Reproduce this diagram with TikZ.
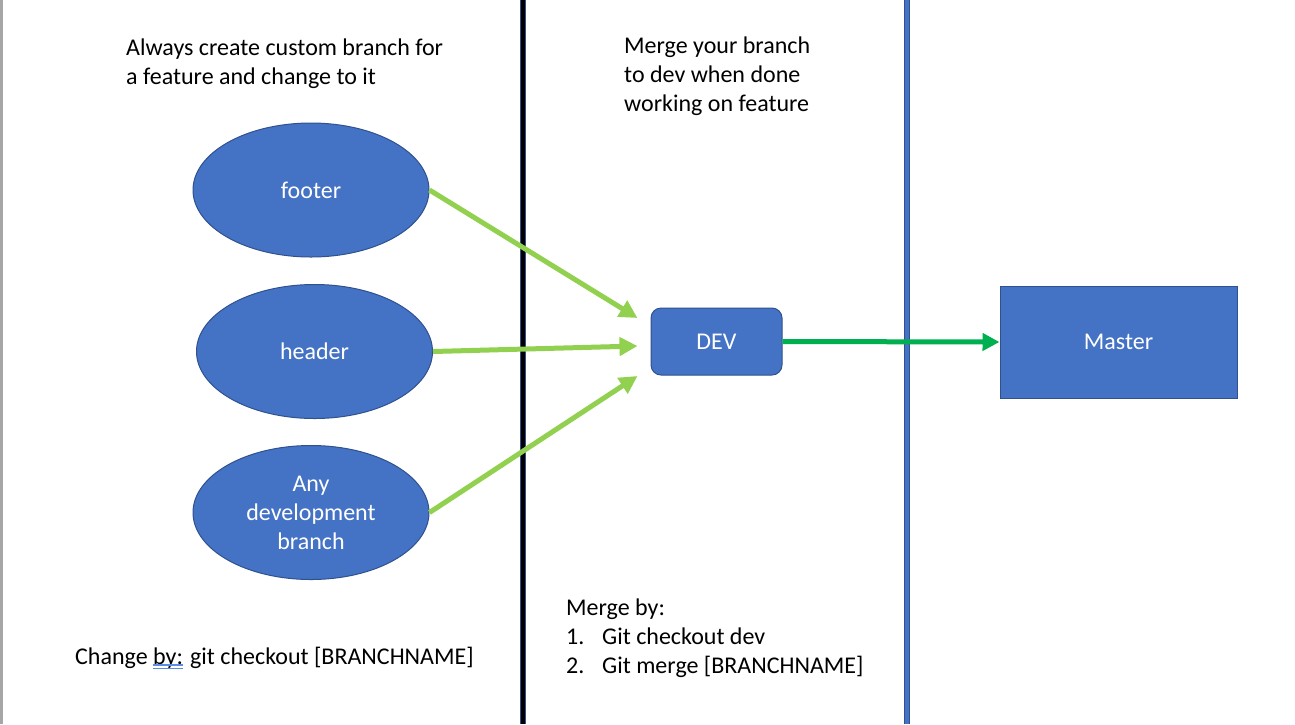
\documentclass[tikz,border=0pt]{standalone}
\usepackage{fontspec}
\setmainfont{Carlito}
\usetikzlibrary{arrows.meta,shapes.geometric,calc}
\definecolor{blueF}{HTML}{4472C4}
\definecolor{blueD}{HTML}{2F528F}
\definecolor{lgreen}{HTML}{92D050}
\definecolor{dgreen}{HTML}{00B050}
\definecolor{spell}{HTML}{5B8BE8}
\definecolor{edge}{HTML}{A6A6A6}
\begin{document}
\begin{tikzpicture}[x=1pt,y=-1pt,
  font=\fontsize{24}{29}\selectfont,
  txt/.style={anchor=base west, inner sep=0pt, text=black},
  branch/.style={ellipse, fill=blueF, draw=blueD, line width=1pt, text=white,
    minimum width=236pt, minimum height=134pt, inner sep=0pt, align=center},
  devbox/.style={rectangle, rounded corners=10pt, fill=blueF, draw=blueD, line width=1pt,
    text=white, minimum width=131pt, minimum height=67pt, inner sep=0pt},
  masterbox/.style={rectangle, fill=blueF, draw=blueD, line width=1pt,
    text=white, minimum width=237pt, minimum height=112pt, inner sep=0pt},
  garrow/.style={draw=lgreen, line width=5pt, -{Triangle[length=18pt,width=18pt]}},
  darrow/.style={draw=dgreen, line width=5pt, -{Triangle[length=17pt,width=17pt]}}]
\useasboundingbox (0,0) rectangle (1295,724);
\fill[white] (0,0) rectangle (1295,724);
% left edge
\draw[edge, line width=2.6pt] (1.3,0) -- (1.3,724);
% dividers
\draw[blueD, line width=6pt] (523,0) -- (523,724);
\draw[black, line width=4.4pt] (523,0) -- (523,724);
\draw[blueD, line width=6pt] (907,0) -- (907,724);
\draw[blueF, line width=4pt] (907,0) -- (907,724);
% headings
\node[txt] (t1) at (126,55) {Always create custom branch for};
\node[txt] (t2) at (126,84) {a feature and change to it};
\node[txt] (m1) at (624,53) {Merge your branch};
\node[txt] (m2) at (624,82) {to dev when done};
\node[txt] (m3) at (624,111) {working on feature};
% shapes
\node[branch] (footer) at (311,190) {footer};
\node[branch] (header) at (314.5,351.5) {header};
\node[branch] (any) at (311,512.5) {Any\\development\\branch};
\node[devbox] (dev) at (716.5,341.5) {DEV};
\node[masterbox] (master) at (1118.5,342) {Master};
% arrows
\draw[garrow] (footer.east) -- ($(dev.west)+(-13,-23.5)$);
\draw[garrow] (header.east) -- ($(dev.west)+(-13,4.5)$);
\draw[garrow] (any.east) -- ($(dev.west)+(-13,34.5)$);
\draw[darrow] (dev.east) -- (master.west);
% bottom texts
\node[txt] (mb) at (566,615) {Merge by:};
\node[txt] (mb1) at (566,644) {\makebox[36pt][l]{1.}Git checkout dev};
\node[txt] (mb2) at (566,673) {\makebox[36pt][l]{2.}Git merge [BRANCHNAME]};
\node[txt] (ch) at (75,664) {Change by: git checkout [BRANCHNAME]};
\draw[spell, line width=1.1pt] (153,665) -- (183,665);
\draw[spell, line width=1.1pt] (153,668.5) -- (183,668.5);
\end{tikzpicture}
\end{document}
